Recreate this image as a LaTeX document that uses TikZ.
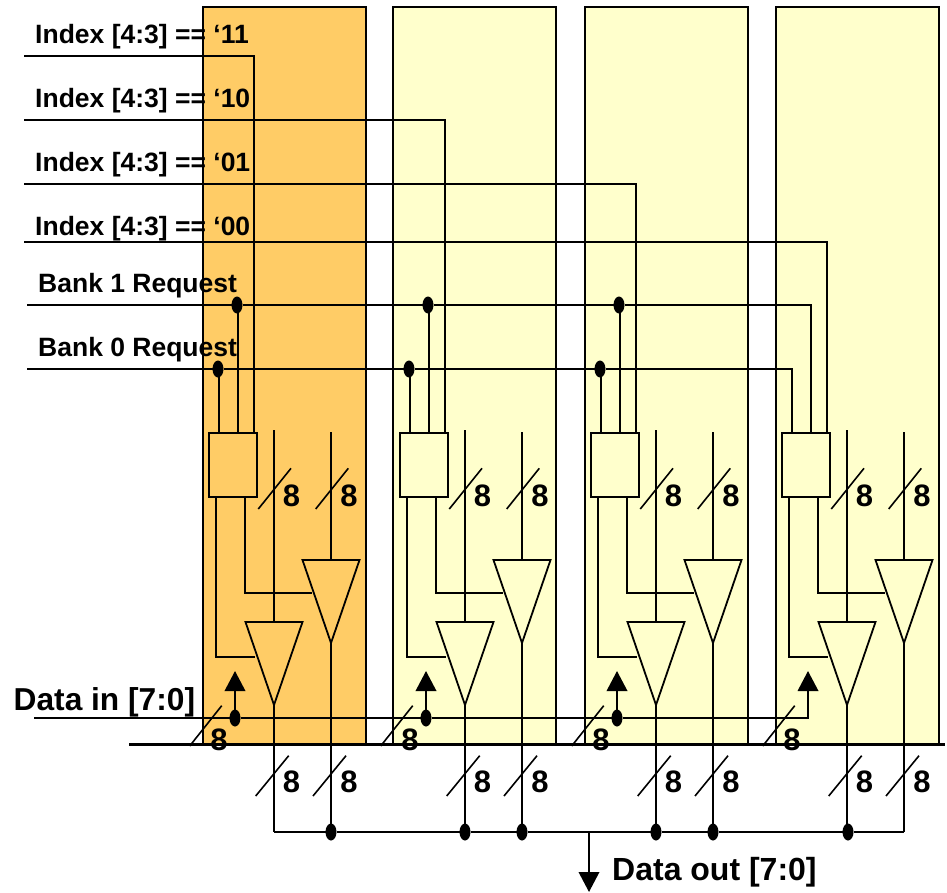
\documentclass[tikz,border=0pt]{standalone}
\usepackage{fontspec}
\setmainfont{Liberation Sans}
\usetikzlibrary{shapes.geometric,arrows.meta}
\definecolor{bankhot}{HTML}{FFCC66}
\definecolor{bankpale}{HTML}{FFFFCC}
\newcommand{\lblfont}[1]{\fontsize{#1}{#1}\selectfont\bfseries}
\tikzset{
  wire/.style={line width=2pt,line join=miter},
  tick/.style={line width=1.6pt},
  busline/.style={line width=3pt},
  bankbox/.style={draw,line width=2pt,minimum width=163pt,minimum height=737pt,inner sep=0pt,outer sep=0pt,anchor=north west},
  selbox/.style={draw,line width=2pt,minimum width=48pt,minimum height=64pt,inner sep=0pt,outer sep=0pt,anchor=north west},
  driver/.style={draw,line width=1.8pt,isosceles triangle,isosceles triangle stretches,shape border rotate=270,minimum width=57pt,minimum height=83pt,inner sep=0pt,outer sep=0pt,anchor=apex},
  joint/.style={ellipse,fill=black,draw=none,minimum width=11pt,minimum height=17pt,inner sep=0pt,outer sep=0pt},
  toarrow/.style={wire,-{Triangle[length=20pt,width=20.5pt]}},
  sigtext/.style={anchor=base west,inner sep=0pt,font=\lblfont{26.5}},
  bigtext/.style={anchor=base west,inner sep=0pt,font=\lblfont{31.7}},
  outtext/.style={anchor=base west,inner sep=0pt,font=\lblfont{32}},
  widthtext/.style={anchor=base,inner sep=0pt,font=\lblfont{31}},
}
\begin{document}
\begin{tikzpicture}[x=1pt,y=-1pt]
\useasboundingbox (0,0) rectangle (947,893);

% banks
\node[bankbox,fill=bankhot]  (bank0) at (203,7) {};
\node[bankbox,fill=bankpale] (bank1) at (393,7) {};
\node[bankbox,fill=bankpale] (bank2) at (585,7) {};
\node[bankbox,fill=bankpale] (bank3) at (776,7) {};

% free ends on the left and below
\coordinate (idx11s) at (24,56);
\coordinate (idx10s) at (24,120);
\coordinate (idx01s) at (24,184);
\coordinate (idx00s) at (24,242);
\coordinate (req1s) at (27,305);
\coordinate (req0s) at (27,369);
\coordinate (dins) at (34,718);
\coordinate (mainl) at (129,744);
\coordinate (mainr) at (945,744);
\coordinate (dout) at (589,892);
\coordinate (doutj) at (589,832);

% per-bank parts
\foreach \n/\o/\c in {0/0/bankhot,1/191/bankpale,2/382/bankpale,3/573/bankpale}{
  \node[selbox,fill=\c] (sel\n) at ({209+\o},433) {};
  \node[driver,fill=\c] (drva\n) at ({274+\o},705) {};
  \node[driver,fill=\c] (drvb\n) at ({331+\o},643) {};
  \coordinate (ta\n) at ({219+\o},433);
  \coordinate (tb\n) at ({238+\o},433);
  \coordinate (tc\n) at ({254+\o},433);
  \coordinate (ba\n) at ({216+\o},497);
  \coordinate (bb\n) at ({245+\o},497);
  \coordinate (ena\n) at ({255+\o},657);
  \coordinate (enb\n) at ({312+\o},593);
  \coordinate (wra\n) at ({274+\o},430);
  \coordinate (wrb\n) at ({331+\o},432);
  \coordinate (busa\n) at ({274+\o},832);
  \coordinate (busb\n) at ({331+\o},832);
  \coordinate (up\n) at ({235+\o},671);
  % enables and data
  \draw[wire] (ba\n) |- (ena\n);
  \draw[wire] (bb\n) |- (enb\n);
  \draw[wire] (wra\n) -- (drva\n.lower side);
  \draw[wire] (wrb\n) -- (drvb\n.lower side);
  \draw[wire] (drva\n.apex) -- (busa\n);
  \draw[wire] (drvb\n.apex) -- (busb\n);
  % bus-width ticks
  \draw[tick] ({258.3+\o},509) -- ({291+\o},468.3);
  \draw[tick] ({315.7+\o},509) -- ({348.3+\o},468.3);
  \draw[tick] ({255.7+\o},796) -- ({288.7+\o},755.7);
  \draw[tick] ({313+\o},796) -- ({346+\o},755.7);
  \draw[tick] ({189.7+\o},746) -- ({221.7+\o},705.7);
  \node[widthtext] (wa\n) at ({291.5+\o},506) {8};
  \node[widthtext] (wb\n) at ({349+\o},506) {8};
  \node[widthtext] (wc\n) at ({291.5+\o},792.5) {8};
  \node[widthtext] (wd\n) at ({349+\o},792.5) {8};
  \node[widthtext] (we\n) at ({219+\o},750) {8};
}

% junction dots
\foreach \n/\o in {0/0,1/191,2/382}{
  \node[joint] (jr1\n) at ({237+\o},305) {};
  \node[joint] (jr0\n) at ({218+\o},369) {};
  \node[joint] (jd\n) at ({235+\o},718) {};
  \draw[wire] (tb\n) -- (tb\n |- jr1\n);
  \draw[wire] (ta\n) -- (ta\n |- jr0\n);
  \draw[toarrow] (jd\n) -- (up\n);
}
\node[joint] (jo1) at (331,832) {};
\node[joint] (jo2) at (465,832) {};
\node[joint] (jo3) at (522,832) {};
\node[joint] (jo4) at (656,832) {};
\node[joint] (jo5) at (713,832) {};
\node[joint] (jo6) at (848,832) {};

% select and request lines
\draw[wire] (idx11s) -| (tc0);
\draw[wire] (idx10s) -| (tc1);
\draw[wire] (idx01s) -| (tc2);
\draw[wire] (idx00s) -| (tc3);
\draw[wire] (req1s) -- (jr10) -- (jr11) -- (jr12) -| (tb3);
\draw[wire] (req0s) -- (jr00) -- (jr01) -- (jr02) -| (ta3);

% data lines
\draw[toarrow] (dins) -- (jd0) -- (jd1) -- (jd2) -| (up3);
\draw[busline] (mainl) -- (mainr);
\draw[wire] (busa0) -- (jo1) -- (jo2) -- (jo3) -- (jo4) -- (jo5) -- (jo6) -- (busb3);
\draw[toarrow] (doutj) -- (dout);

% labels
\node[sigtext] (l11) at (35,43.2) {Index [4:3] == ‘11};
\node[sigtext] (l10) at (35,107.2) {Index [4:3] == ‘10};
\node[sigtext] (l01) at (35,171.2) {Index [4:3] == ‘01};
\node[sigtext] (l00) at (35,235.2) {Index [4:3] == ‘00};
\node[sigtext] (lr1) at (38,292.2) {Bank 1 Request};
\node[sigtext] (lr0) at (38,356.2) {Bank 0 Request};
\node[bigtext] (ldi) at (13.5,710) {Data in [7:0]};
\node[outtext] (ldo) at (612,880) {Data out [7:0]};
\end{tikzpicture}
\end{document}
